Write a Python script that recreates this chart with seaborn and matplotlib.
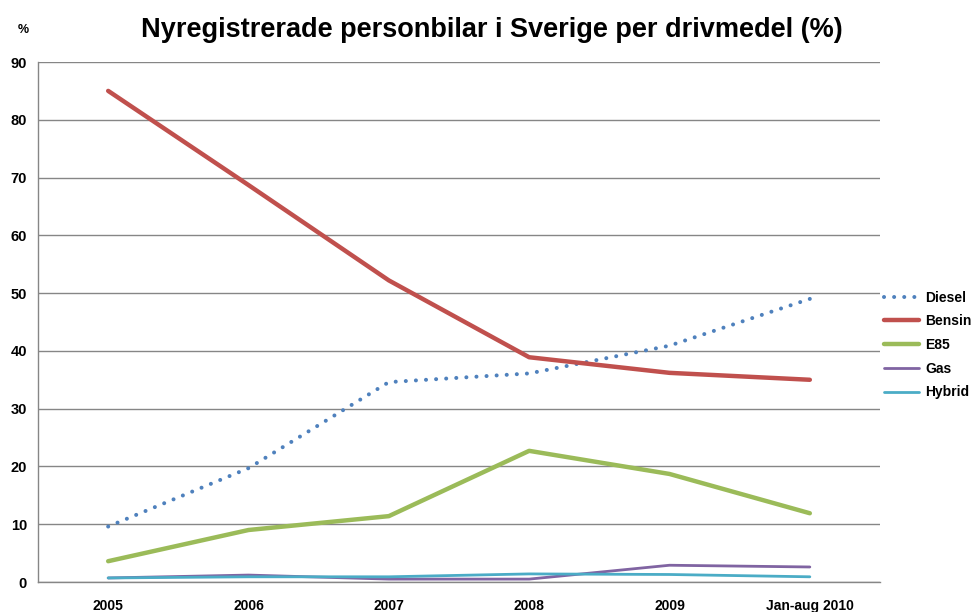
import seaborn as sns
import pandas as pd
import matplotlib.pyplot as plt
import numpy as np

#-----------------------------------------------------------------------------------------------------------------------
"""Data"""
years = ['2005', '2006', '2007', '2008', '2009', 'Jan-aug 2010']
diesel = [9.6, 19.7, 34.6, 36.1, 40.9, 49.0]
bensin = [85.0, 68.7, 52.2, 38.9, 36.2, 35.0]
e85 = [3.6, 9.0, 11.4, 22.7, 18.7, 11.9]
gas = [0.7, 1.2, 0.5, 0.5, 2.9, 2.6]
hybrid = [0.7, 0.9, 0.9, 1.4, 1.3, 0.9]

series = {'Diesel': diesel, 'Bensin': bensin, 'E85': e85, 'Gas': gas, 'Hybrid': hybrid}
colors = {'Diesel': '#4F81BD', 'Bensin': '#C0504D', 'E85': '#9BBB59', 'Gas': '#8064A2', 'Hybrid': '#4BACC6'}
widths = {'Diesel': 2.9, 'Bensin': 3.2, 'E85': 3.2, 'Gas': 2.0, 'Hybrid': 2.0}

rows = []
for name, vals in series.items():
    for i, v in enumerate(vals):
        rows.append({'idx': i, 'year': years[i], 'value': v, 'fuel': name})
df = pd.DataFrame(rows)

#-----------------------------------------------------------------------------------------------------------------------
"""Figure"""
sns.set_style('white')
plt.rcParams['font.family'] = ['Liberation Sans', 'DejaVu Sans']
plt.rcParams['text.color'] = 'black'
fig = plt.figure(figsize=(9.78, 6.12), dpi=100)
ax = fig.add_axes([38/978, 30/612, 842/978, 520/612])

for name in series:
    d = df[df['fuel'] == name]
    sns.lineplot(data=d, x='idx', y='value', ax=ax, color=colors[name], lw=widths[name], label=name)
    if name == 'Diesel':
        ln = ax.lines[-1]
        ln.set_linestyle((0, (0.01, 2.5)))
        ln.set_dash_capstyle('round')

#-----------------------------------------------------------------------------------------------------------------------
"""Axes"""
ax.set_xlim(-0.5, 5.5)
ax.set_ylim(0, 90)
ax.set_yticks(np.arange(0, 91, 10))
ax.set_xticks(range(len(years)))
ax.set_xticklabels(years)
ax.set_xticks(np.arange(-0.5, 5.6, 1), minor=True)
ax.tick_params(axis='x', which='major', length=0, pad=12, labelsize=10, labelcolor='black')
ax.tick_params(axis='x', which='minor', length=5, color='#868686', width=1, direction='out')
ax.tick_params(axis='y', length=5, color='#868686', width=1, direction='out', labelsize=10.5, pad=3,
               labelcolor='black')
for label in ax.get_xticklabels() + ax.get_yticklabels():
    label.set_fontweight('bold')
ax.set_xlabel('')
ax.set_ylabel('')
ax.grid(True, axis='y', color='#868686', lw=1)
ax.set_axisbelow(True)
for s in ['top', 'right']:
    ax.spines[s].set_visible(False)
for s in ['left', 'bottom']:
    ax.spines[s].set_color('#868686')
    ax.spines[s].set_linewidth(1)

#-----------------------------------------------------------------------------------------------------------------------
"""Titles and legend"""
fig.text(0.503, 1 - 30/612, 'Nyregistrerade personbilar i Sverige per drivmedel (%)', ha='center', va='center',
         fontsize=19.5, fontweight='bold', color='black')
fig.text(23/978, 1 - 30/612, '%', ha='center', va='center', fontsize=9, fontweight='bold', color='black')

leg = ax.legend(loc='center left', bbox_to_anchor=(884/978, 1 - 345/612), bbox_transform=fig.transFigure,
                frameon=False, borderpad=0, borderaxespad=0, handlelength=2.5, handletextpad=0.45,
                labelspacing=0.7, prop={'weight': 'bold', 'size': 10})
for t in leg.get_texts():
    t.set_color('black')

#-----------------------------------------------------------------------------------------------------------------------
fig.savefig('out.png', dpi=100)
